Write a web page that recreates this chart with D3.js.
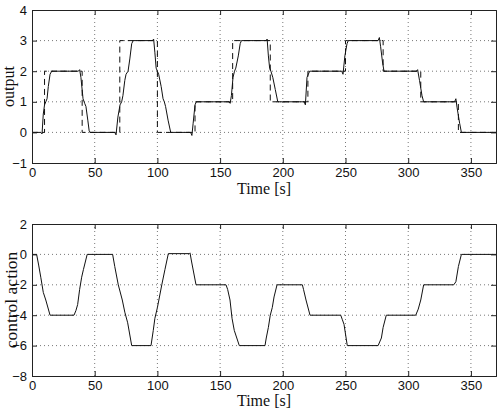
<!DOCTYPE html>
<html><head><meta charset="utf-8">
<script src="https://cdn.jsdelivr.net/npm/d3@7"></script>
<style>body{margin:0;background:#fff}svg{display:block}</style>
</head><body>
<script>
const xTicks = [0,50,100,150,200,250,300,350];
const outputTicks = [-1,0,1,2,3,4];
const controlTicks = [-8,-6,-4,-2,0,2];

const setpointTime  = [0,10,40,70,100,130,160,190,220,250,280,310,340,370];
const setpointValue = [0,2,0,3,0,1,3,1,2,3,2,1,0,0];

const outputTime = [0,7,8,9,10,11,12,13,14.4,15.7,
 37,38,39,40.7,42,43,44.5,45.6,46.5,
 66,67,68.5,70.2,71.5,72.5,74,75,76.6,78,79.5,80.7,
 96,97,98,99,100,101,103,104.5,105.5,106.5,108.5,110.6,
 126.5,127.5,128.5,130,131,
 157,158,159,160.3,161.5,162.5,164.5,166,167,
 186.8,187.5,188.5,189.5,190.5,192,194,196,
 217,218,219.3,221.4,
 247,248,249.5,251.2,252.2,
 276,277,278,279.5,280.7,
 306.5,307.5,309,311,312.3,
 337,338,339,341,342.4,370];
const outputValue = [0,0,-0.05,0.6,0.9,1.0,1.1,1.5,1.9,2.0,
 2.0,2.05,1.8,1.1,0.95,0.85,0.4,0.05,0,
 0,-0.08,0.5,0.9,1.0,1.2,1.7,1.9,2.0,2.4,2.9,3.0,
 3.0,3.05,2.6,2.1,2.0,1.9,1.5,1.1,1.0,0.85,0.4,0,
 0,-0.1,0.3,0.9,1.0,
 1.0,0.95,1.2,1.8,2.0,2.1,2.5,2.9,3.0,
 3.0,3.05,2.5,2.1,2.0,1.8,1.4,1.0,
 1.0,0.9,1.8,2.0,
 2.0,1.9,2.5,2.9,3.0,
 3.0,3.1,2.8,2.3,2.0,
 2.0,2.05,1.7,1.2,1.0,
 1.0,1.1,0.8,0.3,0,0];

const controlTime = [0,3.7,5.3,7,9,11,14.4,
 33.5,35,36.4,38,39.6,41,44,
 64.3,66,68.8,72,74,76.3,79.5,
 94.9,96.7,98,100,103.5,106,108.7,
 125.4,126,127.3,130.8,
 154.7,156,157.9,159.5,161.3,165.3,
 185.8,186.8,188.5,190,191.6,193,195.4,
 215.6,216.5,218.5,221.7,
 246.2,247.5,248.8,251.4,
 276,278.6,280,282.5,
 306,308,310,312.3,
 336.3,338,340,342.4,370];
const controlValue = [0,0,-0.7,-1.5,-2.5,-3.0,-4.0,
 -4,-3.7,-3.3,-2.3,-1.5,-1.0,0,
 0,-0.8,-2,-3,-3.8,-4.5,-6,
 -6,-5,-4.2,-3.5,-2,-1,0.05,
 0.05,0.1,-0.5,-2,
 -2,-2.3,-3,-4.2,-5,-6,
 -6,-5.5,-4.8,-4,-3.5,-2.8,-2.0,
 -2,-2.3,-3,-4,
 -4,-4.3,-4.6,-6,
 -6,-5.5,-4.8,-4,
 -4,-3.6,-3.0,-2,
 -2,-1.8,-0.8,0,0];

const W = 498, H = 408;
const svg = d3.select("body").append("svg").attr("width", W).attr("height", H);
const x = d3.scaleLinear().domain([0,370]).range([32,496]);

function panel(yDomain, yRange, yTicks, ylabel, titleY, series) {
  const y = d3.scaleLinear().domain(yDomain).range(yRange);
  const g = svg.append("g");
  const yBot = yRange[0], yTop = yRange[1];
  const x0 = x.range()[0], x1 = x.range()[1];
  // grid
  g.selectAll(".gx").data(xTicks.filter(t => t > 0)).join("line")
    .attr("x1", d => x(d)).attr("x2", d => x(d)).attr("y1", yBot).attr("y2", yTop)
    .attr("stroke", "#555").attr("stroke-width", 0.8).attr("stroke-dasharray", "1,3");
  g.selectAll(".gy").data(yTicks.filter(t => t !== yDomain[0] && t !== yDomain[1])).join("line")
    .attr("x1", x0).attr("x2", x1).attr("y1", d => y(d)).attr("y2", d => y(d))
    .attr("stroke", "#555").attr("stroke-width", 0.8).attr("stroke-dasharray", "1,3");
  // series
  series.forEach(s => {
    const pts = s.t.map((t,i) => [t, s.v[i]]);
    const line = d3.line().x(d => x(d[0])).y(d => y(d[1])).curve(s.curve || d3.curveLinear);
    g.append("path").datum(pts).attr("d", line).attr("fill", "none")
      .attr("stroke", s.color).attr("stroke-width", s.width)
      .attr("stroke-dasharray", s.dash || null);
  });
  // axes (inward ticks)
  const fmt = d3.format("d");
  const none = () => "";
  const axB = d3.axisBottom(x).tickValues(xTicks).tickSize(-5).tickPadding(5).tickFormat(fmt);
  const axT = d3.axisTop(x).tickValues(xTicks).tickSize(-5).tickFormat(none);
  const axL = d3.axisLeft(y).tickValues(yTicks).tickSize(-5).tickPadding(5).tickFormat(fmt);
  const axR = d3.axisRight(y).tickValues(yTicks).tickSize(-5).tickFormat(none);
  const style = a => {
    a.select(".domain").attr("stroke", "#222");
    a.selectAll(".tick line").attr("stroke", "#222");
    a.selectAll("text").attr("font-family", "Liberation Sans, Arial, sans-serif")
      .attr("font-size", 13).attr("fill", "#111");
  };
  g.append("g").attr("transform", `translate(0,${yBot})`).call(axB).call(style);
  g.append("g").attr("transform", `translate(0,${yTop})`).call(axT).call(style);
  g.append("g").attr("transform", `translate(${x0},0)`).call(axL).call(style);
  g.append("g").attr("transform", `translate(${x1},0)`).call(axR).call(style);
  // titles
  g.append("text").attr("x", (x0 + x1) / 2).attr("y", titleY).attr("text-anchor", "middle")
    .attr("font-family", "Liberation Serif, Times New Roman, serif").attr("font-size", 16)
    .attr("fill", "#111").text("Time [s]");
  g.append("text").attr("transform", `translate(${ylabel.x},${(yBot + yTop) / 2}) rotate(-90)`)
    .attr("text-anchor", "middle")
    .attr("font-family", "Liberation Serif, Times New Roman, serif").attr("font-size", ylabel.size)
    .attr("fill", "#111").text(ylabel.text);
}

panel([-1,4], [163,10], outputTicks, {text: "output", size: 16, x: 14}, 194, [
  {t: setpointTime, v: setpointValue, color: "#111", width: 1, dash: "6,4", curve: d3.curveStepAfter},
  {t: outputTime, v: outputValue, color: "#111", width: 1}
]);
panel([-8,2], [376,224], controlTicks, {text: "control action", size: 17.5, x: 16.5}, 406, [
  {t: controlTime, v: controlValue, color: "#111", width: 1}
]);
</script>
</body></html>
